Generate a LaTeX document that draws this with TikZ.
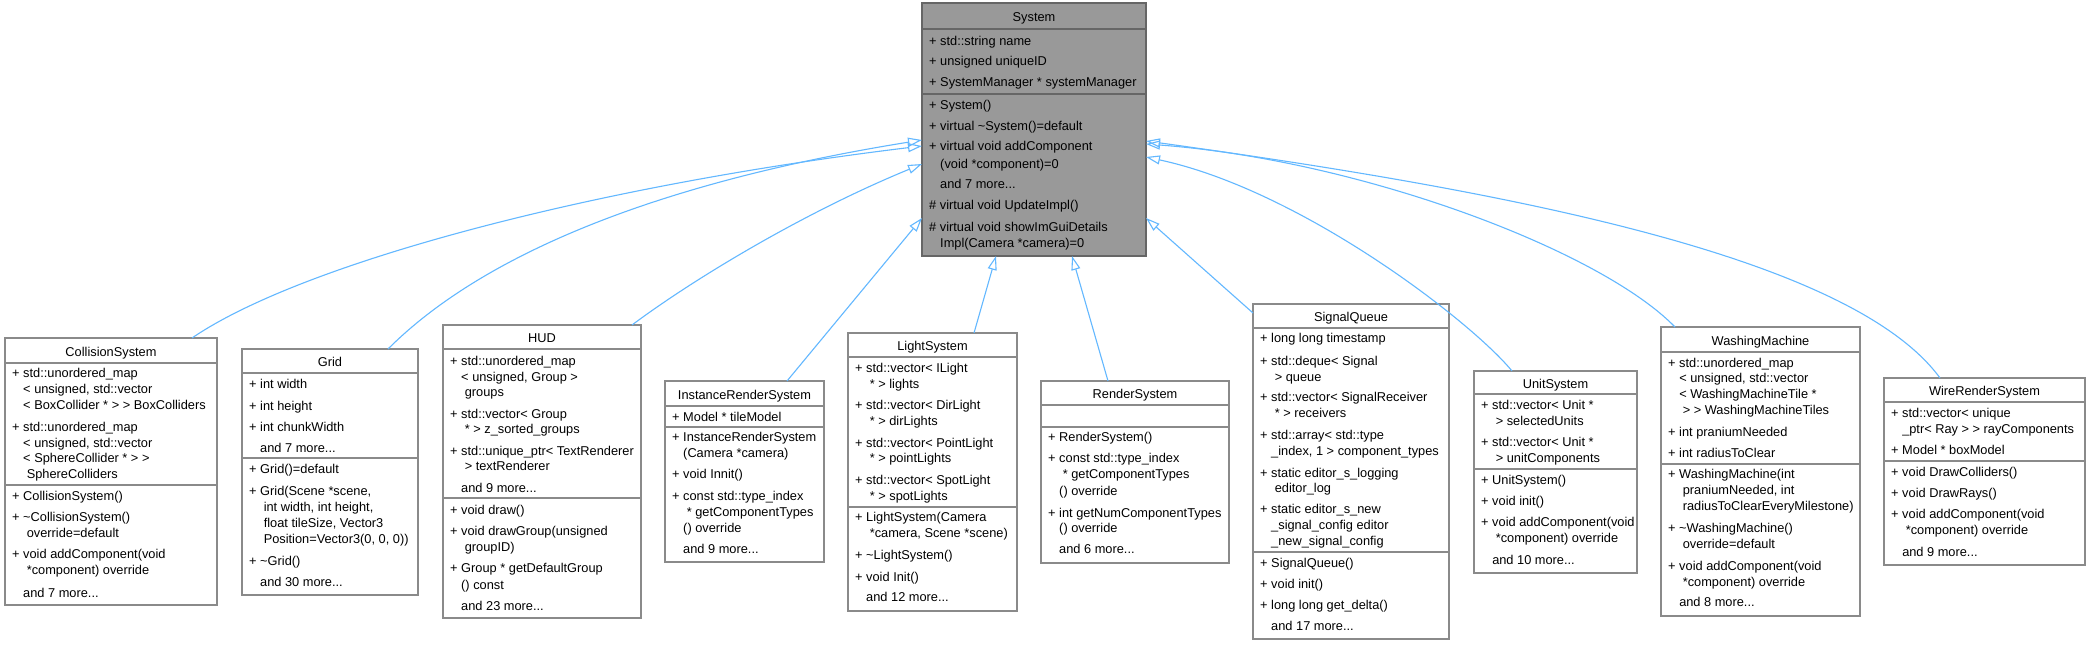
\documentclass[tikz,border=0pt]{standalone}
\usepackage{fontspec}
\setmainfont{Liberation Sans}
\usetikzlibrary{arrows.meta}
\definecolor{edgeblue}{HTML}{63B8FF}
\definecolor{boxline}{HTML}{8A8A8A}
\definecolor{sysline}{HTML}{666666}
\definecolor{sysfill}{HTML}{999999}
\newcounter{mline}
\newcommand\dfont{\fontsize{12.8}{16}\selectfont}
\newcommand\cpad{\hphantom{+\ }}
\newcommand\cpadx{\hphantom{+\ \ }}
\newcommand\ml[3]{\stepcounter{mline}\node[mem] (m\arabic{mline}) at ({#1},{#2+4.6}) {#3};}
\newcommand\ttl[4]{\node[ttlst] (#1) at ({#2},{#3+4.6}) {#4};}
\tikzset{
  cbox/.style={rectangle, draw=boxline, line width=1.2pt, fill=white, inner sep=0pt, outer sep=0pt, anchor=north west},
  sbox/.style={cbox, draw=sysline, fill=sysfill},
  sepst/.style={draw=boxline, line width=1.2pt},
  ssepst/.style={draw=sysline, line width=1.2pt},
  ttlst/.style={anchor=base, inner sep=0pt, font=\dfont},
  mem/.style={anchor=base west, inner sep=0pt, font=\dfont},
  inh/.style={draw=edgeblue, line width=1.1pt, -{Triangle[open, length=14pt, width=9pt]}},
}
\begin{document}
\begin{tikzpicture}[x=1pt, y=-1pt]
\fill[white] (0,0) rectangle (2090,645);
\useasboundingbox (0,0) rectangle (2090,645);

% ---------------- System
\node[sbox, minimum width=224pt, minimum height=253pt] (sys) at (922,3) {};
\draw[ssepst] (922,29) -- (1146,29);
\draw[ssepst] (922,94) -- (1146,94);
\ttl{sys-t}{1034}{17}{System}
\ml{929}{41}{+ std::string name}
\ml{929}{61}{+ unsigned uniqueID}
\ml{929}{82}{+ SystemManager * systemManager}
\ml{929}{105}{+ System()}
\ml{929}{126}{+ virtual \textasciitilde System()=default}
\ml{929}{146}{+ virtual void addComponent}
\ml{929}{164}{\cpad(void *component)=0}
\ml{929}{184}{\cpad and 7 more...}
\ml{929}{205}{\# virtual void UpdateImpl()}
\ml{929}{227}{\# virtual void showImGuiDetails}
\ml{929}{243}{\cpad Impl(Camera *camera)=0}

% ---------------- CollisionSystem
\node[cbox, minimum width=212pt, minimum height=267pt] (coll) at (5,338) {};
\draw[sepst] (5,363) -- (217,363);
\draw[sepst] (5,485) -- (217,485);
\ttl{coll-t}{111}{351.5}{CollisionSystem}
\ml{12}{373}{+ std::unordered\_map}
\ml{12}{389}{\cpad< unsigned, std::vector}
\ml{12}{405}{\cpad< BoxCollider * > > BoxColliders}
\ml{12}{427}{+ std::unordered\_map}
\ml{12}{443}{\cpad< unsigned, std::vector}
\ml{12}{458}{\cpad< SphereCollider * > >}
\ml{12}{474}{\cpadx SphereColliders}
\ml{12}{496}{+ CollisionSystem()}
\ml{12}{517}{+ \textasciitilde CollisionSystem()}
\ml{12}{533}{\cpadx override=default}
\ml{12}{554}{+ void addComponent(void}
\ml{12}{570}{\cpadx *component) override}
\ml{12}{593}{\cpad and 7 more...}

% ---------------- Grid
\node[cbox, minimum width=176pt, minimum height=246pt] (grid) at (242,349) {};
\draw[sepst] (242,373) -- (418,373);
\draw[sepst] (242,458) -- (418,458);
\ttl{grid-t}{330}{362}{Grid}
\ml{249}{384}{+ int width}
\ml{249}{406}{+ int height}
\ml{249}{427}{+ int chunkWidth}
\ml{249}{448}{\cpad and 7 more...}
\ml{249}{469}{+ Grid()=default}
\ml{249}{491}{+ Grid(Scene *scene,}
\ml{249}{507}{\cpadx int width, int height,}
\ml{249}{523}{\cpadx float tileSize, Vector3}
\ml{249}{539}{\cpadx Position=Vector3(0, 0, 0))}
\ml{249}{561}{+ \textasciitilde Grid()}
\ml{249}{582}{\cpad and 30 more...}

% ---------------- HUD
\node[cbox, minimum width=198pt, minimum height=293pt] (hud) at (443,325) {};
\draw[sepst] (443,349) -- (641,349);
\draw[sepst] (443,498) -- (641,498);
\ttl{hud-t}{542}{338}{HUD}
\ml{450}{361}{+ std::unordered\_map}
\ml{450}{377}{\cpad< unsigned, Group >}
\ml{450}{392}{\cpadx groups}
\ml{450}{414}{+ std::vector< Group}
\ml{450}{429}{\cpadx * > z\_sorted\_groups}
\ml{450}{451}{+ std::unique\_ptr< TextRenderer}
\ml{450}{466}{\cpadx > textRenderer}
\ml{450}{488}{\cpad and 9 more...}
\ml{450}{510}{+ void draw()}
\ml{450}{531}{+ void drawGroup(unsigned}
\ml{450}{547}{\cpadx groupID)}
\ml{450}{568}{+ Group * getDefaultGroup}
\ml{450}{585}{\cpad() const}
\ml{450}{606}{\cpad and 23 more...}

% ---------------- InstanceRenderSystem
\node[cbox, minimum width=159pt, minimum height=181pt] (irs) at (665,381) {};
\draw[sepst] (665,406) -- (824,406);
\draw[sepst] (665,427) -- (824,427);
\ttl{irs-t}{744.5}{394.5}{InstanceRenderSystem}
\ml{672}{417}{+ Model * tileModel}
\ml{672}{437}{+ InstanceRenderSystem}
\ml{672}{453}{\cpad(Camera *camera)}
\ml{672}{474}{+ void Innit()}
\ml{672}{496}{+ const std::type\_index}
\ml{672}{512}{\cpadx * getComponentTypes}
\ml{672}{528}{\cpad() override}
\ml{672}{549}{\cpad and 9 more...}

% ---------------- LightSystem
\node[cbox, minimum width=169pt, minimum height=278pt] (light) at (848,333) {};
\draw[sepst] (848,357) -- (1017,357);
\draw[sepst] (848,507) -- (1017,507);
\ttl{light-t}{932.5}{346}{LightSystem}
\ml{855}{368}{+ std::vector< ILight}
\ml{855}{384}{\cpadx * > lights}
\ml{855}{405}{+ std::vector< DirLight}
\ml{855}{421}{\cpadx * > dirLights}
\ml{855}{443}{+ std::vector< PointLight}
\ml{855}{458}{\cpadx * > pointLights}
\ml{855}{480}{+ std::vector< SpotLight}
\ml{855}{496}{\cpadx * > spotLights}
\ml{855}{517}{+ LightSystem(Camera}
\ml{855}{533}{\cpadx *camera, Scene *scene)}
\ml{855}{555}{+ \textasciitilde LightSystem()}
\ml{855}{577}{+ void Init()}
\ml{855}{597}{\cpad and 12 more...}

% ---------------- RenderSystem
\node[cbox, minimum width=188pt, minimum height=182pt] (render) at (1041,381) {};
\draw[sepst] (1041,405) -- (1229,405);
\draw[sepst] (1041,427) -- (1229,427);
\ttl{render-t}{1135}{394}{RenderSystem}
\ml{1048}{437}{+ RenderSystem()}
\ml{1048}{458}{+ const std::type\_index}
\ml{1048}{474}{\cpadx * getComponentTypes}
\ml{1048}{491}{\cpad() override}
\ml{1048}{513}{+ int getNumComponentTypes}
\ml{1048}{528}{\cpad() override}
\ml{1048}{549}{\cpad and 6 more...}

% ---------------- SignalQueue
\node[cbox, minimum width=196pt, minimum height=335pt] (sigq) at (1253,304) {};
\draw[sepst] (1253,328) -- (1449,328);
\draw[sepst] (1253,552) -- (1449,552);
\ttl{sigq-t}{1351}{317}{SignalQueue}
\ml{1260}{338}{+ long long timestamp}
\ml{1260}{361}{+ std::deque< Signal}
\ml{1260}{377}{\cpadx > queue}
\ml{1260}{397}{+ std::vector< SignalReceiver}
\ml{1260}{413}{\cpadx * > receivers}
\ml{1260}{435}{+ std::array< std::type}
\ml{1260}{451}{\cpad\_index, 1 > component\_types}
\ml{1260}{473}{+ static editor\_s\_logging}
\ml{1260}{488}{\cpadx editor\_log}
\ml{1260}{509}{+ static editor\_s\_new}
\ml{1260}{525}{\cpad\_signal\_config editor}
\ml{1260}{541}{\cpad\_new\_signal\_config}
\ml{1260}{563}{+ SignalQueue()}
\ml{1260}{584}{+ void init()}
\ml{1260}{605}{+ long long get\_delta()}
\ml{1260}{626}{\cpad and 17 more...}

% ---------------- UnitSystem
\node[cbox, minimum width=163pt, minimum height=202pt] (unit) at (1474,371) {};
\draw[sepst] (1474,394) -- (1637,394);
\draw[sepst] (1474,469) -- (1637,469);
\ttl{unit-t}{1555.5}{383.5}{UnitSystem}
\ml{1481}{405}{+ std::vector< Unit *}
\ml{1481}{421}{\cpadx > selectedUnits}
\ml{1481}{442}{+ std::vector< Unit *}
\ml{1481}{458}{\cpadx > unitComponents}
\ml{1481}{480}{+ UnitSystem()}
\ml{1481}{501}{+ void init()}
\ml{1481}{522}{+ void addComponent(void}
\ml{1481}{538}{\cpadx *component) override}
\ml{1481}{560}{\cpad and 10 more...}

% ---------------- WashingMachine
\node[cbox, minimum width=199pt, minimum height=289pt] (wash) at (1661,327) {};
\draw[sepst] (1661,352) -- (1860,352);
\draw[sepst] (1661,464) -- (1860,464);
\ttl{wash-t}{1760.5}{340.5}{WashingMachine}
\ml{1668}{363}{+ std::unordered\_map}
\ml{1668}{378}{\cpad< unsigned, std::vector}
\ml{1668}{394}{\cpad< WashingMachineTile *}
\ml{1668}{410}{\cpadx > > WashingMachineTiles}
\ml{1668}{432}{+ int praniumNeeded}
\ml{1668}{453}{+ int radiusToClear}
\ml{1668}{474}{+ WashingMachine(int}
\ml{1668}{490}{\cpadx praniumNeeded, int}
\ml{1668}{506}{\cpadx radiusToClearEveryMilestone)}
\ml{1668}{528}{+ \textasciitilde WashingMachine()}
\ml{1668}{544}{\cpadx override=default}
\ml{1668}{566}{+ void addComponent(void}
\ml{1668}{582}{\cpadx *component) override}
\ml{1668}{602}{\cpad and 8 more...}

% ---------------- WireRenderSystem
\node[cbox, minimum width=201pt, minimum height=187pt] (wire) at (1884,378) {};
\draw[sepst] (1884,402) -- (2085,402);
\draw[sepst] (1884,461) -- (2085,461);
\ttl{wire-t}{1984.5}{391}{WireRenderSystem}
\ml{1891}{413}{+ std::vector< unique}
\ml{1891}{429}{\cpad\_ptr< Ray > > rayComponents}
\ml{1891}{450}{+ Model * boxModel}
\ml{1891}{472}{+ void DrawColliders()}
\ml{1891}{493}{+ void DrawRays()}
\ml{1891}{514}{+ void addComponent(void}
\ml{1891}{530}{\cpadx *component) override}
\ml{1891}{552}{\cpad and 9 more...}

% ---------------- inheritance edges
\draw[inh] ([xshift=81pt]coll.north) .. controls (302,263) and (592,186) .. ([yshift=-143pt]sys.north west);
\draw[inh] ([xshift=58pt]grid.north) .. controls (488,249) and (672,180) .. ([yshift=-137pt]sys.north west);
\draw[inh] ([xshift=90pt]hud.north) .. controls (695,278) and (805,212) .. ([yshift=-161pt]sys.north west);
\draw[inh] ([xshift=42.5pt]irs.north) -- ([yshift=-215pt]sys.north west);
\draw[inh] ([xshift=41.5pt]light.north) -- ([xshift=74pt]sys.south west);
\draw[inh] ([xshift=-27pt]render.north) -- ([xshift=150pt]sys.south west);
\draw[inh] ([yshift=-9pt]sigq.north west) -- ([yshift=-215pt]sys.north east);
\draw[inh] ([xshift=-43.5pt]unit.north) .. controls (1470,320) and (1300,190) .. ([yshift=-154pt]sys.north east);
\draw[inh] ([xshift=-85.5pt]wash.north) .. controls (1600,250) and (1360,160) .. ([yshift=-141pt]sys.north east);
\draw[inh] ([xshift=-44.5pt]wire.north) .. controls (1850,255) and (1500,190) .. ([yshift=-138pt]sys.north east);
\end{tikzpicture}
\end{document}
